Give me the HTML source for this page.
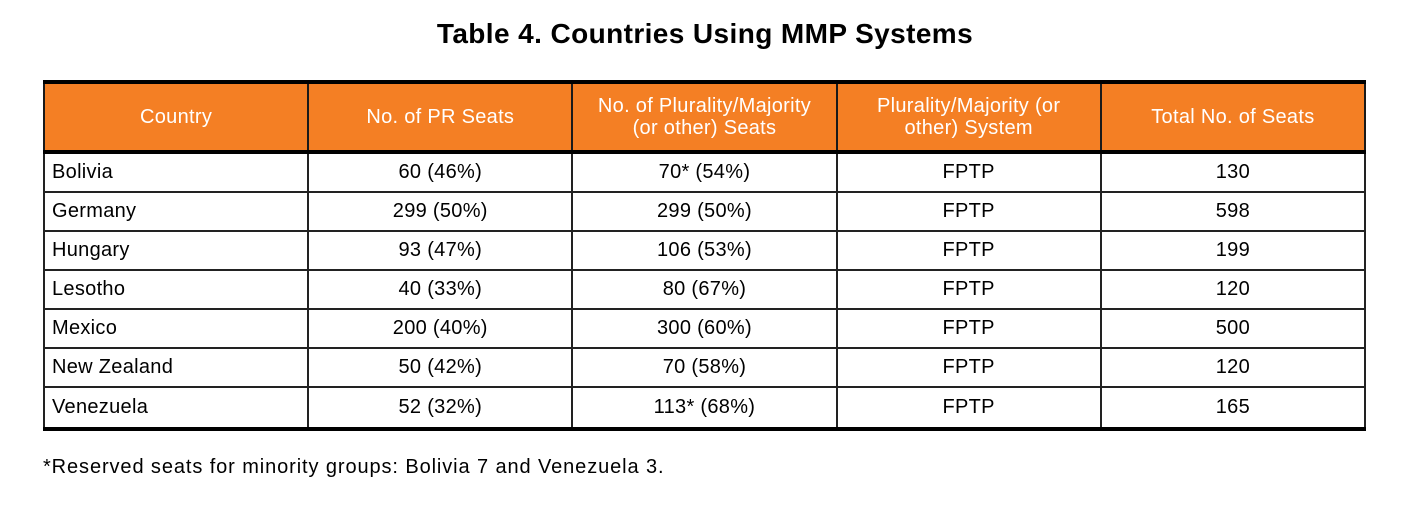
<!DOCTYPE html>
<html><head><meta charset="utf-8"><style>
body{margin:0;width:1410px;height:518px;background:#fff;position:relative;font-family:"Liberation Sans",sans-serif;overflow:hidden}
.t{position:absolute;left:0;width:1410px;top:18px;text-align:center;font-weight:bold;font-size:28px;letter-spacing:0.4px;color:#000}
table{position:absolute;left:43px;top:80px;width:1323px;border-collapse:collapse;border-top:4px solid #000;border-bottom:4px solid #000;border-left:2px solid #000;border-right:2px solid #000}
th{background:#F47F24;color:#fff;font-weight:normal;font-size:20px;height:66px;border:2px solid #1a1a1a;border-bottom:4px solid #000;line-height:22px;padding:0 4px;width:20%;letter-spacing:0.3px}
td{font-size:20px;height:37px;border:2px solid #222;text-align:center;padding:0;color:#000;letter-spacing:0.3px}
tr:last-child td{height:39px}
td.l{text-align:left;padding-left:7px}
.n{position:absolute;left:43px;top:456px;font-size:20px;letter-spacing:0.9px;color:#000}
</style></head><body>
<div class="t">Table 4. Countries Using MMP Systems</div>
<table>
<tr><th>Country</th><th>No. of PR Seats</th><th>No. of Plurality/Majority<br>(or other) Seats</th><th>Plurality/Majority (or<br>other) System</th><th>Total No. of Seats</th></tr>
<tr><td class="l">Bolivia</td><td>60 (46%)</td><td>70* (54%)</td><td>FPTP</td><td>130</td></tr>
<tr><td class="l">Germany</td><td>299 (50%)</td><td>299 (50%)</td><td>FPTP</td><td>598</td></tr>
<tr><td class="l">Hungary</td><td>93 (47%)</td><td>106 (53%)</td><td>FPTP</td><td>199</td></tr>
<tr><td class="l">Lesotho</td><td>40 (33%)</td><td>80 (67%)</td><td>FPTP</td><td>120</td></tr>
<tr><td class="l">Mexico</td><td>200 (40%)</td><td>300 (60%)</td><td>FPTP</td><td>500</td></tr>
<tr><td class="l">New Zealand</td><td>50 (42%)</td><td>70 (58%)</td><td>FPTP</td><td>120</td></tr>
<tr><td class="l">Venezuela</td><td>52 (32%)</td><td>113* (68%)</td><td>FPTP</td><td>165</td></tr>
</table>
<div class="n">*Reserved seats for minority groups: Bolivia 7 and Venezuela 3.</div>
</body></html>
